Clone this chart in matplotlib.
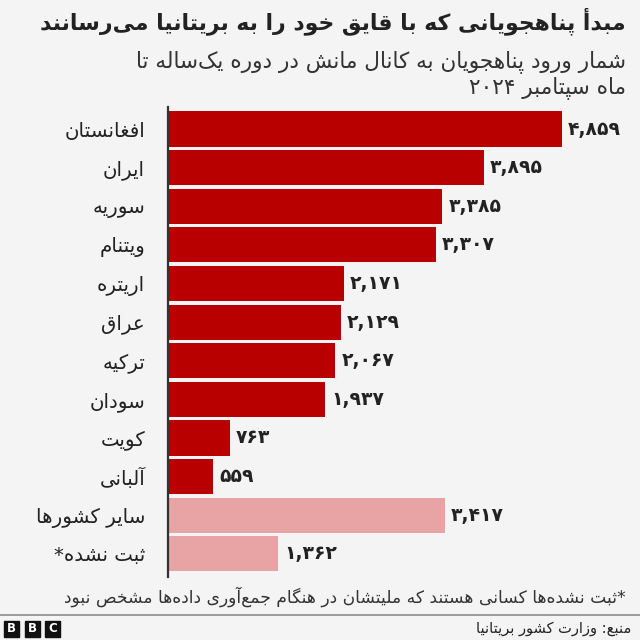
import matplotlib
matplotlib.use("Agg")
import matplotlib.pyplot as plt
from matplotlib.patches import Rectangle

# ---------------- data ----------------
categories = ["افغانستان", "ایران", "سوریه", "ویتنام", "اریتره", "عراق",
              "ترکیه", "سودان", "کویت", "آلبانی", "سایر کشورها", "ثبت نشده*"]
values = [4859, 3895, 3385, 3307, 2171, 2129, 2067, 1937, 763, 559, 3417, 1362]
highlight = [True] * 10 + [False, False]

title = "مبدأ پناهجویانی که با قایق خود را به بریتانیا می‌رسانند"
subtitle1 = "شمار ورود پناهجویان به کانال مانش در دوره یک‌ساله تا"
subtitle2 = "ماه سپتامبر ۲۰۲۴"
footnote = "*ثبت نشده‌ها کسانی هستند که ملیتشان در هنگام جمع‌آوری داده‌ها مشخص نبود"
source = "منبع: وزارت کشور بریتانیا"

# ---------------- Arabic/Persian shaping ----------------
FORMS = {
    '\u0621': (0xFE80, None, None, None),
    '\u0622': (0xFE81, 0xFE82, None, None),
    '\u0623': (0xFE83, 0xFE84, None, None),
    '\u0624': (0xFE85, 0xFE86, None, None),
    '\u0625': (0xFE87, 0xFE88, None, None),
    '\u0626': (0xFE89, 0xFE8A, 0xFE8B, 0xFE8C),
    '\u0627': (0xFE8D, 0xFE8E, None, None),
    '\u0628': (0xFE8F, 0xFE90, 0xFE91, 0xFE92),
    '\u0629': (0xFE93, 0xFE94, None, None),
    '\u062A': (0xFE95, 0xFE96, 0xFE97, 0xFE98),
    '\u062B': (0xFE99, 0xFE9A, 0xFE9B, 0xFE9C),
    '\u062C': (0xFE9D, 0xFE9E, 0xFE9F, 0xFEA0),
    '\u062D': (0xFEA1, 0xFEA2, 0xFEA3, 0xFEA4),
    '\u062E': (0xFEA5, 0xFEA6, 0xFEA7, 0xFEA8),
    '\u062F': (0xFEA9, 0xFEAA, None, None),
    '\u0630': (0xFEAB, 0xFEAC, None, None),
    '\u0631': (0xFEAD, 0xFEAE, None, None),
    '\u0632': (0xFEAF, 0xFEB0, None, None),
    '\u0633': (0xFEB1, 0xFEB2, 0xFEB3, 0xFEB4),
    '\u0634': (0xFEB5, 0xFEB6, 0xFEB7, 0xFEB8),
    '\u0635': (0xFEB9, 0xFEBA, 0xFEBB, 0xFEBC),
    '\u0636': (0xFEBD, 0xFEBE, 0xFEBF, 0xFEC0),
    '\u0637': (0xFEC1, 0xFEC2, 0xFEC3, 0xFEC4),
    '\u0638': (0xFEC5, 0xFEC6, 0xFEC7, 0xFEC8),
    '\u0639': (0xFEC9, 0xFECA, 0xFECB, 0xFECC),
    '\u063A': (0xFECD, 0xFECE, 0xFECF, 0xFED0),
    '\u0641': (0xFED1, 0xFED2, 0xFED3, 0xFED4),
    '\u0642': (0xFED5, 0xFED6, 0xFED7, 0xFED8),
    '\u0643': (0xFED9, 0xFEDA, 0xFEDB, 0xFEDC),
    '\u0644': (0xFEDD, 0xFEDE, 0xFEDF, 0xFEE0),
    '\u0645': (0xFEE1, 0xFEE2, 0xFEE3, 0xFEE4),
    '\u0646': (0xFEE5, 0xFEE6, 0xFEE7, 0xFEE8),
    '\u0647': (0xFEE9, 0xFEEA, 0xFEEB, 0xFEEC),
    '\u0648': (0xFEED, 0xFEEE, None, None),
    '\u0649': (0xFEEF, 0xFEF0, None, None),
    '\u064A': (0xFEF1, 0xFEF2, 0xFEF3, 0xFEF4),
    '\u067E': (0xFB56, 0xFB57, 0xFB58, 0xFB59),
    '\u0686': (0xFB7A, 0xFB7B, 0xFB7C, 0xFB7D),
    '\u0698': (0xFB8A, 0xFB8B, None, None),
    '\u06A9': (0xFB8E, 0xFB8F, 0xFB90, 0xFB91),
    '\u06AF': (0xFB92, 0xFB93, 0xFB94, 0xFB95),
    '\u06CC': (0xFBFC, 0xFBFD, 0xFBFE, 0xFBFF),
}
LAMALEF = {'\u0622': (0xFEF5, 0xFEF6), '\u0623': (0xFEF7, 0xFEF8),
           '\u0625': (0xFEF9, 0xFEFA), '\u0627': (0xFEFB, 0xFEFC)}


def dual(c):
    return c in FORMS and FORMS[c][2] is not None


def joins(c):
    return c in FORMS and FORMS[c][1] is not None


def shape(s):
    out = []
    n = len(s)
    i = 0
    while i < n:
        c = s[i]
        if c not in FORMS:
            if c != '\u200c':
                out.append(c)
            i += 1
            continue
        prev = s[i - 1] if i > 0 else ''
        cp = dual(prev)
        if c == '\u0644' and i + 1 < n and s[i + 1] in LAMALEF:
            iso, fin = LAMALEF[s[i + 1]]
            out.append(chr(fin if cp else iso))
            i += 2
            continue
        nxt = s[i + 1] if i + 1 < n else ''
        cn = dual(c) and joins(nxt)
        iso, fin, ini, med = FORMS[c]
        if cp and cn:
            g = med
        elif cp and fin:
            g = fin
        elif cn:
            g = ini
        else:
            g = iso
        out.append(chr(g))
        i += 1
    return ''.join(out)


def is_ltr(c):
    return bool(c.isdigit() or ('a' <= c.lower() <= 'z'))


def visual(s):
    shaped = shape(s)
    runs = []
    cur = ''
    cur_ltr = False
    for c in shaped:
        l = is_ltr(c) or (cur_ltr and c in ',.')
        if cur == '' or l == cur_ltr:
            cur += c
            cur_ltr = l
        else:
            runs.append((cur, cur_ltr))
            cur = c
            cur_ltr = l
    if cur:
        runs.append((cur, cur_ltr))
    res = ''
    for r, l in reversed(runs):
        res += r if l else r[::-1]
    return res


PDIG = str.maketrans("0123456789", "۰۱۲۳۴۵۶۷۸۹")


def fa_num(v):
    return f"{v:,}".translate(PDIG)


# ---------------- figure ----------------
plt.rcParams['font.family'] = ['DejaVu Sans']
BG = "#f4f4f4"
DARK = "#b80000"
LIGHT = "#e8a3a5"
TXT = "#222222"

fig = plt.figure(figsize=(6.4, 6.4), dpi=100, facecolor=BG)
ax = fig.add_axes([168 / 640, 63 / 640, 452 / 640, 470 / 640])
ax.set_facecolor(BG)

ypos = list(range(len(categories)))
colors = [DARK if h else LIGHT for h in highlight]
ax.barh(ypos, values, height=0.91, color=colors, edgecolor="none")
ax.set_xlim(0, 5578)
ax.set_ylim(11.6, -0.57)

for sp in ["top", "right", "bottom"]:
    ax.spines[sp].set_visible(False)
ax.spines["left"].set_color("#333333")
ax.spines["left"].set_linewidth(1.6)
ax.set_xticks([])
ax.set_yticks(ypos)
ax.set_yticklabels([visual(c) for c in categories], fontsize=14.2, color=TXT)
ax.tick_params(axis="y", length=0, pad=16.5)

for y, v in zip(ypos, values):
    ax.text(v + 75, y, fa_num(v), va="center", ha="left", fontsize=13.5,
            fontweight="bold", color=TXT)

# titles
fig.text(626 / 640, 1 - 21 / 640, visual(title), ha="right", va="center",
         fontsize=15.8, fontweight="bold", color=TXT)
fig.text(626 / 640, 1 - 62 / 640, visual(subtitle1), ha="right", va="center",
         fontsize=15.6, color="#333333")
fig.text(626 / 640, 1 - 88 / 640, visual(subtitle2), ha="right", va="center",
         fontsize=15.6, color="#333333")

# footnote
fig.text(626 / 640, 1 - 597 / 640, visual(footnote), ha="right", va="center",
         fontsize=12.3, color="#333333")

# separator line
fig.add_artist(plt.Line2D([0, 1], [1 - 614.5 / 640, 1 - 614.5 / 640],
                          transform=fig.transFigure, color="#8c8c8c", lw=1.2))

# source
fig.text(631 / 640, 1 - 628 / 640, visual(source), ha="right", va="center",
         fontsize=10.5, color=TXT)

# BBC logo
for k, letter in enumerate("BBC"):
    x0 = (4 + k * 20.5) / 640
    fig.add_artist(Rectangle((x0, 1 - 637 / 640), 15 / 640, 16 / 640,
                             transform=fig.transFigure, color="#111111"))
    fig.text(x0 + 7.5 / 640, 1 - 629 / 640, letter, ha="center", va="center",
             fontsize=8.5, fontweight="bold", color="white")

fig.savefig("out.png", dpi=100, facecolor=BG)
